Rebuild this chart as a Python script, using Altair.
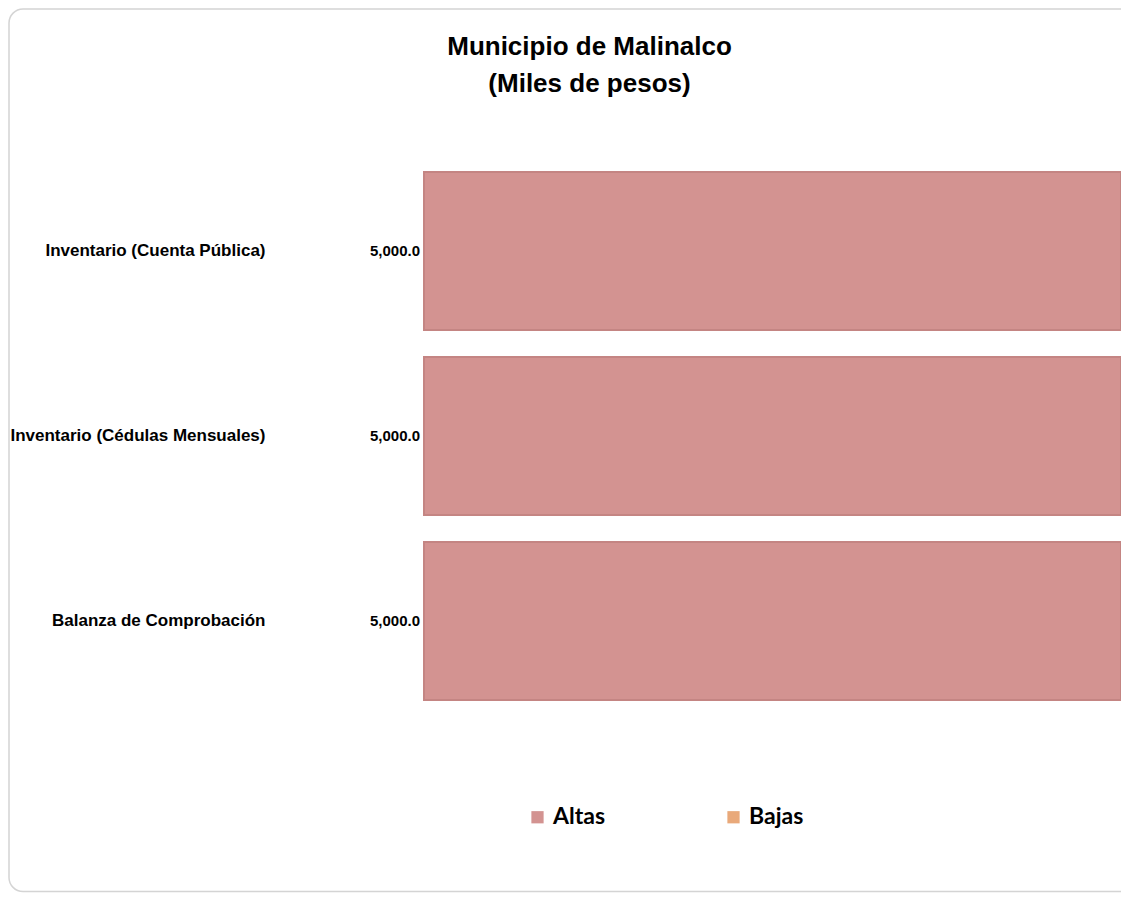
import altair as alt
import pandas as pd

categorias = ["Inventario (Cuenta Pública)", "Inventario (Cédulas Mensuales)", "Balanza de Comprobación"]
altas = [5000.0, 5000.0, 5000.0]
bajas = [0.0, 0.0, 0.0]
series = ["Altas", "Bajas"]
colores = ["#d39391", "#e9a97a"]

rows = []
for c, a, b in zip(categorias, altas, bajas):
    rows.append({"categoria": c, "serie": "Altas", "valor": a})
    rows.append({"categoria": c, "serie": "Bajas", "valor": b})
df = pd.DataFrame(rows)

W, H = 697, 555

y_enc = alt.Y("categoria:N", sort=categorias,
              scale=alt.Scale(paddingInner=0.146, paddingOuter=0.073),
              axis=alt.Axis(title=None, ticks=False, domain=False, labelPadding=159,
                            labelFont="Liberation Sans", labelFontSize=17, labelFontWeight="bold",
                            labelColor="#000000", labelLimit=400))

frame = alt.Chart(pd.DataFrame({"k": [0]})).mark_rect(
    cornerRadius=14, fillOpacity=0, stroke="#d4d4d4", strokeWidth=1.5
).encode(x=alt.value(-415), x2=alt.value(730), y=alt.value(-149.5), y2=alt.value(733))

bars = alt.Chart(df).transform_filter("datum.valor > 0").mark_bar(
    stroke="#c48583", strokeWidth=2
).encode(
    y=y_enc,
    x=alt.X("valor:Q", stack="zero", scale=alt.Scale(domain=[0, 5000], nice=False), axis=None),
    color=alt.Color("serie:N", scale=alt.Scale(domain=series, range=colores),
                    legend=alt.Legend(title=None, orient="none", direction="horizontal",
                                      legendX=102, legendY=647, symbolType="square", symbolSize=150,
                                      symbolStrokeWidth=0,
                                      labelFont="Lato", labelFontSize=23, labelFontWeight="bold",
                                      labelColor="#000000", columnPadding=116, labelOffset=4)),
)

labels = alt.Chart(df).transform_filter("datum.serie == 'Altas'").mark_text(
    align="right", baseline="middle", dx=-4, font="Liberation Sans", fontSize=15,
    fontWeight="bold", color="#000000"
).encode(
    y=alt.Y("categoria:N", sort=categorias),
    x=alt.value(0),
    text=alt.Text("valor:Q", format=",.1f"),
)

chart = alt.layer(frame, bars, labels).properties(
    width=W, height=H,
    title=alt.TitleParams(["Municipio de Malinalco", "(Miles de pesos)"], font="Liberation Sans",
                          fontSize=26, fontWeight="bold", color="#000000", anchor="middle",
                          frame="bounds", lineHeight=37, offset=0, dy=89, dx=8),
    autosize=alt.AutoSizeParams(type="none"),
    padding={"left": 416, "top": 150.5, "right": 0, "bottom": 180},
).configure(background="white", view=alt.ViewConfig(stroke=None))

chart.save("out.html", embed_options={"renderer": "svg", "actions": False})
